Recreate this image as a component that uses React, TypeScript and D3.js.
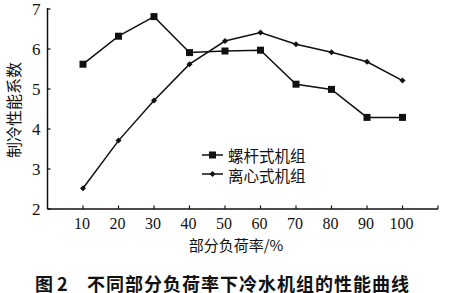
import React from "react";
import * as d3 from "d3";

const loads = [10, 20, 30, 40, 50, 60, 70, 80, 90, 100];
const screwCOP = [5.62, 6.32, 6.81, 5.91, 5.95, 5.97, 5.12, 4.99, 4.29, 4.29];
const centrifugalCOP = [2.52, 3.71, 4.71, 5.62, 6.2, 6.41, 6.12, 5.92, 5.68, 5.21];
const xTicks = [10, 20, 30, 40, 50, 60, 70, 80, 90, 100, 110];
const xTickLabels = ["10", "20", "30", "40", "50", "60", "70", "80", "90", "100", ""];
const yTicks = [2, 3, 4, 5, 6, 7];
const seriesNames = ["螺杆式机组", "离心式机组"];

const W = 450;
const H = 293;
const left = 47.5;
const right = 438;
const top = 9;
const bottom = 209;

export default function App() {
  const x = d3.scaleLinear().domain([0, 110]).range([left, right]);
  const y = d3.scaleLinear().domain([2, 7]).range([bottom, top]);
  const line = d3
    .line<number>()
    .x((_, i) => x(loads[i]))
    .y((d) => y(d));
  const serif = "'Liberation Serif', 'DejaVu Serif', serif";
  const cjk = "'Noto Sans CJK SC', sans-serif";
  const diamond = (cx: number, cy: number, r: number) =>
    `M${cx},${cy - r}L${cx + r},${cy}L${cx},${cy + r}L${cx - r},${cy}Z`;
  return (
    <svg
      width={W}
      height={H}
      style={{ position: "absolute", left: 0, top: 0, background: "#fff" }}
    >
      {/* axes */}
      <line x1={left} y1={top - 1} x2={left} y2={bottom} stroke="#111" strokeWidth={1.5} />
      <line x1={left} y1={bottom} x2={right} y2={bottom} stroke="#111" strokeWidth={1.5} />
      {yTicks.map((t) => (
        <g key={"y" + t}>
          <line x1={left} x2={left + 3} y1={y(t)} y2={y(t)} stroke="#111" strokeWidth={1.2} />
          <text
            x={left - 7}
            y={y(t)}
            textAnchor="end"
            dominantBaseline="central"
            fontFamily={serif}
            fontSize={17}
            fill="#111"
          >
            {t}
          </text>
        </g>
      ))}
      {xTicks.map((t, i) => (
        <g key={"x" + t}>
          <line x1={x(t)} x2={x(t)} y1={bottom} y2={bottom - 3.5} stroke="#111" strokeWidth={1.2} />
          <text
            x={x(t) - 1}
            y={223}
            textAnchor="middle"
            dominantBaseline="central"
            fontFamily={serif}
            fontSize={16}
            fill="#111"
          >
            {xTickLabels[i]}
          </text>
        </g>
      ))}
      {/* series lines */}
      <path d={line(screwCOP) || ""} fill="none" stroke="#111" strokeWidth={1.5} />
      <path d={line(centrifugalCOP) || ""} fill="none" stroke="#111" strokeWidth={1.5} />
      {screwCOP.map((v, i) => (
        <rect key={"s" + i} x={x(loads[i]) - 3.5} y={y(v) - 3.5} width={7} height={7} fill="#111" />
      ))}
      {centrifugalCOP.map((v, i) => (
        <path key={"c" + i} d={diamond(x(loads[i]), y(v), 3)} fill="#111" />
      ))}
      {/* legend */}
      <line x1={202} x2={223} y1={155} y2={155} stroke="#111" strokeWidth={1.5} />
      <rect x={209} y={151.5} width={7} height={7} fill="#111" />
      <text x={228} y={155} dominantBaseline="central" fontFamily={cjk} fontSize={15.5} fill="#111">
        {seriesNames[0]}
      </text>
      <line x1={202} x2={223} y1={174} y2={174} stroke="#111" strokeWidth={1.5} />
      <path d={diamond(212.5, 174, 3)} fill="#111" />
      <text x={228} y={174.5} dominantBaseline="central" fontFamily={cjk} fontSize={15.5} fill="#111">
        {seriesNames[1]}
      </text>
      {/* axis titles */}
      <text
        transform="translate(13,110) rotate(-90)"
        textAnchor="middle"
        dominantBaseline="central"
        fontFamily={cjk}
        fontSize={16}
        fill="#111"
      >
        制冷性能系数
      </text>
      <text
        x={236}
        y={244}
        textAnchor="middle"
        dominantBaseline="central"
        fontFamily={cjk}
        fontSize={15}
        fill="#111"
      >
        部分负荷率/%
      </text>
      <text
        x={35}
        y={283}
        dominantBaseline="central"
        fontFamily={cjk}
        fontWeight="bold"
        fontSize={18}
        fill="#111"
      >
        图 2
      </text>
      <text
        x={87}
        y={283}
        dominantBaseline="central"
        fontFamily={cjk}
        fontWeight="bold"
        fontSize={18}
        letterSpacing={1}
        fill="#111"
      >
        不同部分负荷率下冷水机组的性能曲线
      </text>
    </svg>
  );
}
